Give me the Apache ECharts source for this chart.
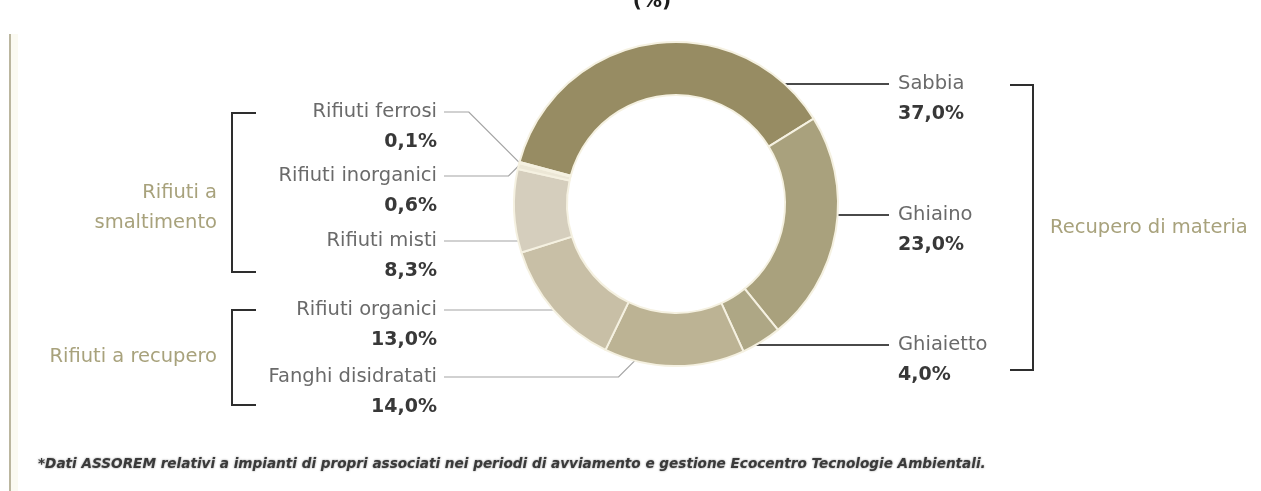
<!DOCTYPE html>
<html>
<head>
<meta charset="utf-8">
<script src="https://cdn.jsdelivr.net/npm/echarts@6/dist/echarts.min.js"></script>
<style>
  html, body { margin: 0; padding: 0; background: #ffffff; }
  #chart { width: 1261px; height: 491px; }
</style>
</head>
<body>
<div id="chart"></div>
<script>
// Composition of treated material (%), clockwise from the top-left
const categories = ['Sabbia', 'Ghiaino', 'Ghiaietto', 'Fanghi disidratati', 'Rifiuti organici', 'Rifiuti misti', 'Rifiuti inorganici', 'Rifiuti ferrosi'];
const shares = [37.0, 23.0, 4.0, 14.0, 13.0, 8.3, 0.6, 0.1];
const sliceColors = ['#978c63', '#a9a17d', '#aea785', '#bcb394', '#c8bfa6', '#d5cebd', '#ece7d6', '#f1ecdd'];

const groupTitles = ['Rifiuti a\nsmaltimento', 'Rifiuti a recupero', 'Recupero di materia'];
const chartTitle = '(%)';
const footnote = '*Dati ASSOREM relativi a impianti di propri associati nei periodi di avviamento e gestione Ecocentro Tecnologie Ambientali.';

// Label placement: side of the ring, vertical position of the leader line,
// and where the leader meets the slice when no straight horizontal fits.
const labelSide = ['right', 'right', 'right', 'left', 'left', 'left', 'left', 'left'];
const labelLineY = [84, 215, 345, 377, 310, 241, 176, 112];
const anchorFraction = [0.5, 0.5, 0.5, 0.78, 0.5, 0.5, 0.5, 0.5];
const LEFT_TEXT_X = 437, RIGHT_TEXT_X = 898;
const LEFT_LINE_X = 444, RIGHT_LINE_X = 889;
const FONT = '"DejaVu Sans", Verdana, sans-serif';

function fmt(v) { return v.toFixed(1).replace('.', ',') + '%'; }

const chart = echarts.init(document.getElementById('chart'), null, { renderer: 'canvas' });

function inSpan(theta, a, b) {
  for (let k = -1; k <= 1; k++) {
    const t = theta + k * 2 * Math.PI;
    if (t >= a && t <= b) return true;
  }
  return false;
}

function leaderPoints(idx) {
  const lay = chart.getModel().getSeriesByIndex(0).getData().getItemLayout(idx);
  const cx = lay.cx, cy = lay.cy, r = lay.r;
  const a = Math.min(lay.startAngle, lay.endAngle), b = Math.max(lay.startAngle, lay.endAngle);
  const y = labelLineY[idx];
  const left = labelSide[idx] === 'left';
  const endX = left ? LEFT_LINE_X : RIGHT_LINE_X;
  const dy = y - cy;
  if (Math.abs(dy) < r) {
    const hx = cx + (left ? -1 : 1) * Math.sqrt(r * r - dy * dy);
    const th = Math.atan2(dy, hx - cx);
    if (inSpan(th, a, b)) {
      return [[hx, y], [(hx + endX) / 2, y], [endX, y]];
    }
  }
  const ang = a + anchorFraction[idx] * (b - a);
  const px = cx + r * Math.cos(ang), py = cy + r * Math.sin(ang);
  const off = Math.abs(py - y);
  const ex = left ? px - off : px + off;
  return [[px, py], [ex, y], [endX, y]];
}

const data = categories.map(function (name, i) {
  const left = labelSide[i] === 'left';
  return {
    name: name,
    value: shares[i],
    itemStyle: { color: sliceColors[i] },
    labelLine: {
      lineStyle: left ? { color: '#a3a3a3', width: 1.2 } : { color: '#4a4a4a', width: 2 }
    }
  };
});

const graphics = [
  // thin rule along the left edge
  { type: 'rect', left: 11, top: 34, shape: { width: 7, height: 460 }, style: { fill: '#fbfaf2' }, silent: true },
  { type: 'line', shape: { x1: 10, y1: 34, x2: 10, y2: 491 }, style: { stroke: '#bbb69f', lineWidth: 2 }, silent: true },
  // title, partly above the top edge
  { type: 'text', x: 652, y: 2, style: { text: chartTitle, font: 'bold 20px ' + FONT, fill: '#1c1c1c', align: 'center', verticalAlign: 'middle' } },
  // group brackets
  { type: 'polyline', shape: { points: [[256, 113], [232, 113], [232, 272], [256, 272]] }, style: { stroke: '#2e2e2e', lineWidth: 2, fill: null } },
  { type: 'polyline', shape: { points: [[256, 310], [232, 310], [232, 405], [256, 405]] }, style: { stroke: '#2e2e2e', lineWidth: 2, fill: null } },
  { type: 'polyline', shape: { points: [[1010, 85], [1033, 85], [1033, 370], [1010, 370]] }, style: { stroke: '#2e2e2e', lineWidth: 2, fill: null } },
  // group titles
  { type: 'text', x: 217, y: 208, style: { text: groupTitles[0], font: '19.5px ' + FONT, fill: '#a8a27c', align: 'right', verticalAlign: 'middle', lineHeight: 30 } },
  { type: 'text', x: 217, y: 357, style: { text: groupTitles[1], font: '19.5px ' + FONT, fill: '#a8a27c', align: 'right', verticalAlign: 'middle' } },
  { type: 'text', x: 1050, y: 228, style: { text: groupTitles[2], font: '19.5px ' + FONT, fill: '#a8a27c', align: 'left', verticalAlign: 'middle' } },
  // source note
  { type: 'text', x: 38, y: 464, style: { text: footnote, font: 'italic bold 13.6px ' + FONT, fill: '#3a3a3a', align: 'left', verticalAlign: 'middle', textShadowColor: 'rgba(60,60,60,0.6)', textShadowBlur: 2 } }
];

chart.setOption({
  backgroundColor: '#ffffff',
  animation: false,
  graphic: graphics,
  series: [{
    type: 'pie',
    center: [676, 204],
    radius: [109, 162],
    startAngle: 165,
    clockwise: true,
    avoidLabelOverlap: false,
    itemStyle: { borderColor: '#f5f1e1', borderWidth: 2 },
    label: {
      show: true,
      position: 'outside',
      formatter: function (p) { return '{n|' + p.name + '}\n{v|' + fmt(p.value) + '}'; },
      rich: {
        n: { fontFamily: FONT, fontSize: 19.5, color: '#6a6a6a', lineHeight: 30 },
        v: { fontFamily: FONT, fontSize: 19, fontWeight: 'bold', color: '#383838', lineHeight: 30 }
      }
    },
    labelLine: { show: true, length: 10, length2: 10 },
    labelLayout: function (p) {
      const i = p.dataIndex;
      const left = labelSide[i] === 'left';
      return {
        x: left ? LEFT_TEXT_X : RIGHT_TEXT_X,
        y: labelLineY[i] - 15,
        align: left ? 'right' : 'left',
        verticalAlign: 'top',
        labelLinePoints: leaderPoints(i)
      };
    },
    data: data
  }]
});
</script>
</body>
</html>
